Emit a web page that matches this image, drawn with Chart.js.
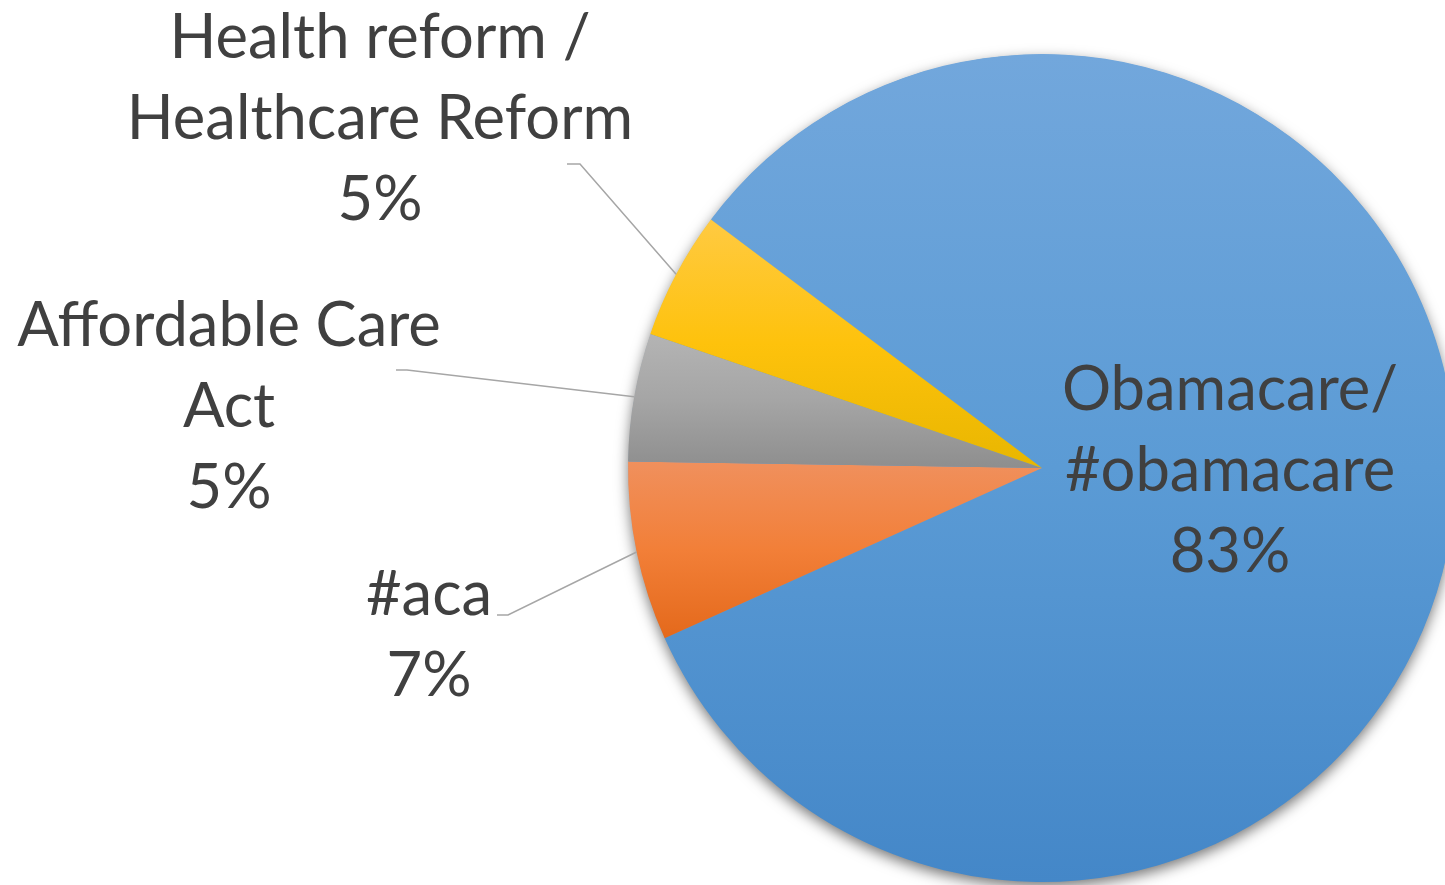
<!DOCTYPE html>
<html><head><meta charset="utf-8">
<script src="https://cdn.jsdelivr.net/npm/chart.js@4.4.0/dist/chart.umd.min.js"></script>
<style>
html,body{margin:0;padding:0;background:#fff;overflow:hidden;width:1445px;height:885px;}
#wrap{position:absolute;left:0;top:0;width:1460px;height:885px;}
</style></head><body>
<div id="wrap"><canvas id="c"></canvas></div>
<script>
// ---- data ----
const categories = ['Obamacare/ #obamacare', '#aca', 'Affordable Care Act', 'Health reform / Healthcare Reform'];
const labelLines = [['Obamacare/', '#obamacare'], ['#aca'], ['Affordable Care', 'Act'], ['Health reform /', 'Healthcare Reform']];
const shares = [83, 7, 5, 5];

// ---- styles ----
const gradientStops = [
  ['#72a7dc', '#5b9bd5', '#4487c8'],
  ['#f0905d', '#f27f38', '#e4691b'],
  ['#b4b4b4', '#a5a5a5', '#8e8e8e'],
  ['#ffca42', '#fec20c', '#e8b600']
];
const rotationDeg = -53.1;
const textColor = '#404040';
const labelFont = '61.5px Lato';
const linePitch = 81;
// label placement: centre x, first baseline, optional leader stub [x1, x2, y]
const labelPlacement = [
  {x: 1230, y: 410, stub: null},
  {x: 429, y: 615, stub: [497, 508, 615]},
  {x: 229, y: 346, stub: [396, 407, 370]},
  {x: 380, y: 58,  stub: [567, 580, 164]}
];

const total = shares.reduce((a, b) => a + b, 0);

function sliceGradient(ctx) {
  const chart = ctx.chart, area = chart.chartArea, i = ctx.dataIndex;
  if (!area) return gradientStops[i][1];
  const cx = (area.left + area.right) / 2, cy = (area.top + area.bottom) / 2;
  const r = Math.min(area.width, area.height) / 2;
  let start = (rotationDeg - 90) * Math.PI / 180;
  for (let k = 0; k < i; k++) start += shares[k] / total * 2 * Math.PI;
  const end = start + shares[i] / total * 2 * Math.PI;
  let minY = cy, maxY = cy;
  for (let t = 0; t <= 90; t++) {
    const a = start + (end - start) * t / 90;
    const y = cy + r * Math.sin(a);
    minY = Math.min(minY, y); maxY = Math.max(maxY, y);
  }
  const g = chart.ctx.createLinearGradient(0, minY, 0, maxY);
  g.addColorStop(0, gradientStops[i][0]);
  g.addColorStop(0.5, gradientStops[i][1]);
  g.addColorStop(1, gradientStops[i][2]);
  return g;
}

const shadowPlugin = {
  id: 'pieShadow',
  beforeDatasetsDraw(chart) {
    const arc = chart.getDatasetMeta(0).data[0];
    if (!arc) return;
    const c = chart.ctx;
    c.save();
    c.shadowColor = 'rgba(0,0,0,0.55)';
    c.shadowBlur = 14;
    c.shadowOffsetX = 0;
    c.shadowOffsetY = 5;
    c.fillStyle = '#5b9bd5';
    c.beginPath();
    c.arc(arc.x, arc.y, arc.outerRadius - 0.5, 0, Math.PI * 2);
    c.fill();
    c.restore();
  }
};

const labelPlugin = {
  id: 'pieLabels',
  afterDatasetsDraw(chart) {
    const c = chart.ctx;
    const meta = chart.getDatasetMeta(0);
    c.save();
    meta.data.forEach((arc, i) => {
      const p = labelPlacement[i];
      if (p.stub) {
        const mid = (arc.startAngle + arc.endAngle) / 2;
        const ex = arc.x + arc.outerRadius * Math.cos(mid);
        const ey = arc.y + arc.outerRadius * Math.sin(mid);
        c.strokeStyle = '#a6a6a6';
        c.lineWidth = 1.5;
        c.beginPath();
        c.moveTo(p.stub[0], p.stub[2]);
        c.lineTo(p.stub[1], p.stub[2]);
        c.lineTo(ex, ey);
        c.stroke();
      }
      c.fillStyle = textColor;
      c.font = labelFont;
      c.textAlign = 'center';
      c.textBaseline = 'alphabetic';
      const lines = labelLines[i].concat([Math.round(shares[i] / total * 100) + '%']);
      lines.forEach((t, k) => c.fillText(t, p.x, p.y + k * linePitch));
    });
    c.restore();
  }
};

new Chart(document.getElementById('c'), {
  type: 'pie',
  data: {
    labels: categories,
    datasets: [{
      data: shares,
      backgroundColor: sliceGradient,
      borderWidth: 0
    }]
  },
  options: {
    responsive: true,
    maintainAspectRatio: false,
    animation: false,
    rotation: rotationDeg,
    layout: {padding: {left: 628, right: 4, top: 54, bottom: 3}},
    plugins: {legend: {display: false}, tooltip: {enabled: false}}
  },
  plugins: [shadowPlugin, labelPlugin]
});
</script>
</body></html>
